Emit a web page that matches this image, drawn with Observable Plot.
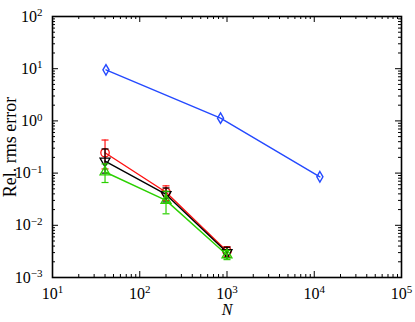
<!DOCTYPE html>
<html><head><meta charset="utf-8">
<script src="https://cdn.jsdelivr.net/npm/d3@7"></script>
<script src="https://cdn.jsdelivr.net/npm/@observablehq/plot@0.6"></script>
<style>
body{margin:0;background:#fff}
</style>
</head><body><div id="chart"></div>
<script>
// Data
const nBlue = [41, 843, 11600];
const errBlue = [9.5, 1.13, 0.085];
const nErr = [40, 200, 1000];
const errRed = [0.245, 0.043, 0.0032];
const loRed = [0.12, 0.03, 0.0025];
const hiRed = [0.43, 0.057, 0.0039];
const errBlack = [0.17, 0.039, 0.0030];
const loBlack = [0.10, 0.028, 0.0024];
const hiBlack = [0.29, 0.052, 0.0038];
const errGreen = [0.105, 0.030, 0.0027];
const loGreen = [0.066, 0.0166, 0.0022];
const hiGreen = [0.15, 0.045, 0.0033];
const xMajor = [1e1, 1e2, 1e3, 1e4, 1e5];
const yMajor = [1e-3, 1e-2, 1e-1, 1e0, 1e1, 1e2];
const xLabel = "N";
const yLabel = "Rel. rms error";
const colors = {blue: "#2449ff", red: "#ff1010", black: "#000000", green: "#2bd000"};

const W = 415, H = 322, mL = 52, mR = 14, mT = 16, mB = 45;
const pw = W - mL - mR, ph = H - mT - mB;
const FONT = "'Liberation Serif', 'Times New Roman', serif";

const xMinor = d3.scaleLog().domain([10, 1e5]).ticks().filter(d => !xMajor.includes(d));
const yMinor = d3.scaleLog().domain([1e-3, 1e2]).ticks().filter(d => !yMajor.some(m => Math.abs(m - d) / m < 1e-9));

const blueRows = nBlue.map((n, i) => ({name: "blue", n, v: errBlue[i], color: colors.blue}));
const mk = (name, v, lo, hi) => nErr.map((n, i) => ({name, n, v: v[i], lo: lo[i], hi: hi[i], color: colors[name]}));
const errRows = [...mk("red", errRed, loRed, hiRed), ...mk("black", errBlack, loBlack, hiBlack), ...mk("green", errGreen, loGreen, hiGreen)];

const cap = {draw(ctx) { ctx.moveTo(-3.5, 0); ctx.lineTo(3.5, 0); }};
const fmt = d => "10^" + Math.round(Math.log10(d));

const markerFor = {red: {symbol: "circle", r: 4.2, rotate: 0}, black: {symbol: "triangle", r: 3.7, rotate: 180}, green: {symbol: "triangle", r: 3.7, rotate: 0}};

const marks = [
  Plot.line(blueRows, {x: "n", y: "v", stroke: "color", strokeWidth: 1.4}),
  Plot.dot(blueRows, {x: "n", y: "v", symbol: "diamond", r: 3.2, stroke: "color", fill: "none", strokeWidth: 1.4}),
];
for (const name of ["red", "black", "green"]) {
  const rows = errRows.filter(d => d.name === name);
  const m = markerFor[name];
  marks.push(
    Plot.line(rows, {x: "n", y: "v", stroke: "color", strokeWidth: 1.4}),
    Plot.ruleX(rows, {x: "n", y1: "lo", y2: "hi", stroke: "color", strokeWidth: 1.2}),
    Plot.dot(rows, {x: "n", y: "lo", symbol: cap, stroke: "color", strokeWidth: 1.2}),
    Plot.dot(rows, {x: "n", y: "hi", symbol: cap, stroke: "color", strokeWidth: 1.2}),
    Plot.dot(rows, {x: "n", y: "v", symbol: m.symbol, r: m.r, rotate: m.rotate, stroke: "color", fill: "none", strokeWidth: 1.3})
  );
}
marks.push(
  Plot.tickX(xMajor, {x: d => d, insetTop: ph - 6, strokeWidth: 1}),
  Plot.tickX(xMajor, {x: d => d, insetBottom: ph - 6, strokeWidth: 1}),
  Plot.tickX(xMinor, {x: d => d, insetTop: ph - 3, strokeWidth: 1}),
  Plot.tickX(xMinor, {x: d => d, insetBottom: ph - 3, strokeWidth: 1}),
  Plot.tickY(yMajor, {y: d => d, insetRight: pw - 6, strokeWidth: 1}),
  Plot.tickY(yMajor, {y: d => d, insetLeft: pw - 6, strokeWidth: 1}),
  Plot.tickY(yMinor, {y: d => d, insetRight: pw - 3, strokeWidth: 1}),
  Plot.tickY(yMinor, {y: d => d, insetLeft: pw - 3, strokeWidth: 1}),
  Plot.frame({stroke: "#000", strokeWidth: 1.6}),
  Plot.axisX({ticks: xMajor, tickSize: 0, tickPadding: 10, tickFormat: fmt, label: null}),
  Plot.axisY({ticks: yMajor, tickSize: 0, tickPadding: 10, tickFormat: fmt, label: null}),
  Plot.text([xLabel], {frameAnchor: "bottom", dy: 37, fontStyle: "italic"}),
  Plot.text([yLabel], {frameAnchor: "left", dx: -42, rotate: -90, textAnchor: "middle"})
);

const chart = Plot.plot({
  width: W, height: H,
  marginLeft: mL, marginRight: mR, marginTop: mT, marginBottom: mB,
  x: {type: "log", domain: [10, 1e5]},
  y: {type: "log", domain: [1e-3, 1e2]},
  color: {type: "identity"},
  style: {background: "#fff", color: "#000"},
  marks
});

chart.querySelectorAll("text").forEach(t => {
  t.style.fontFamily = FONT;
  const m = /^10\^(-?\d+)$/.exec(t.textContent);
  if (m) {
    t.style.fontSize = "16px";
    t.textContent = "10";
    const s = document.createElementNS("http://www.w3.org/2000/svg", "tspan");
    s.setAttribute("dy", "-0.5em");
    s.style.fontSize = "11px";
    s.textContent = m[1].replace("-", "\u2212");
    t.appendChild(s);
  } else if (t.textContent === yLabel) {
    t.style.fontSize = "18px";
  } else if (t.textContent === xLabel) {
    t.style.fontSize = "16px";
  }
});
document.getElementById("chart").appendChild(chart);
</script>
</body></html>
